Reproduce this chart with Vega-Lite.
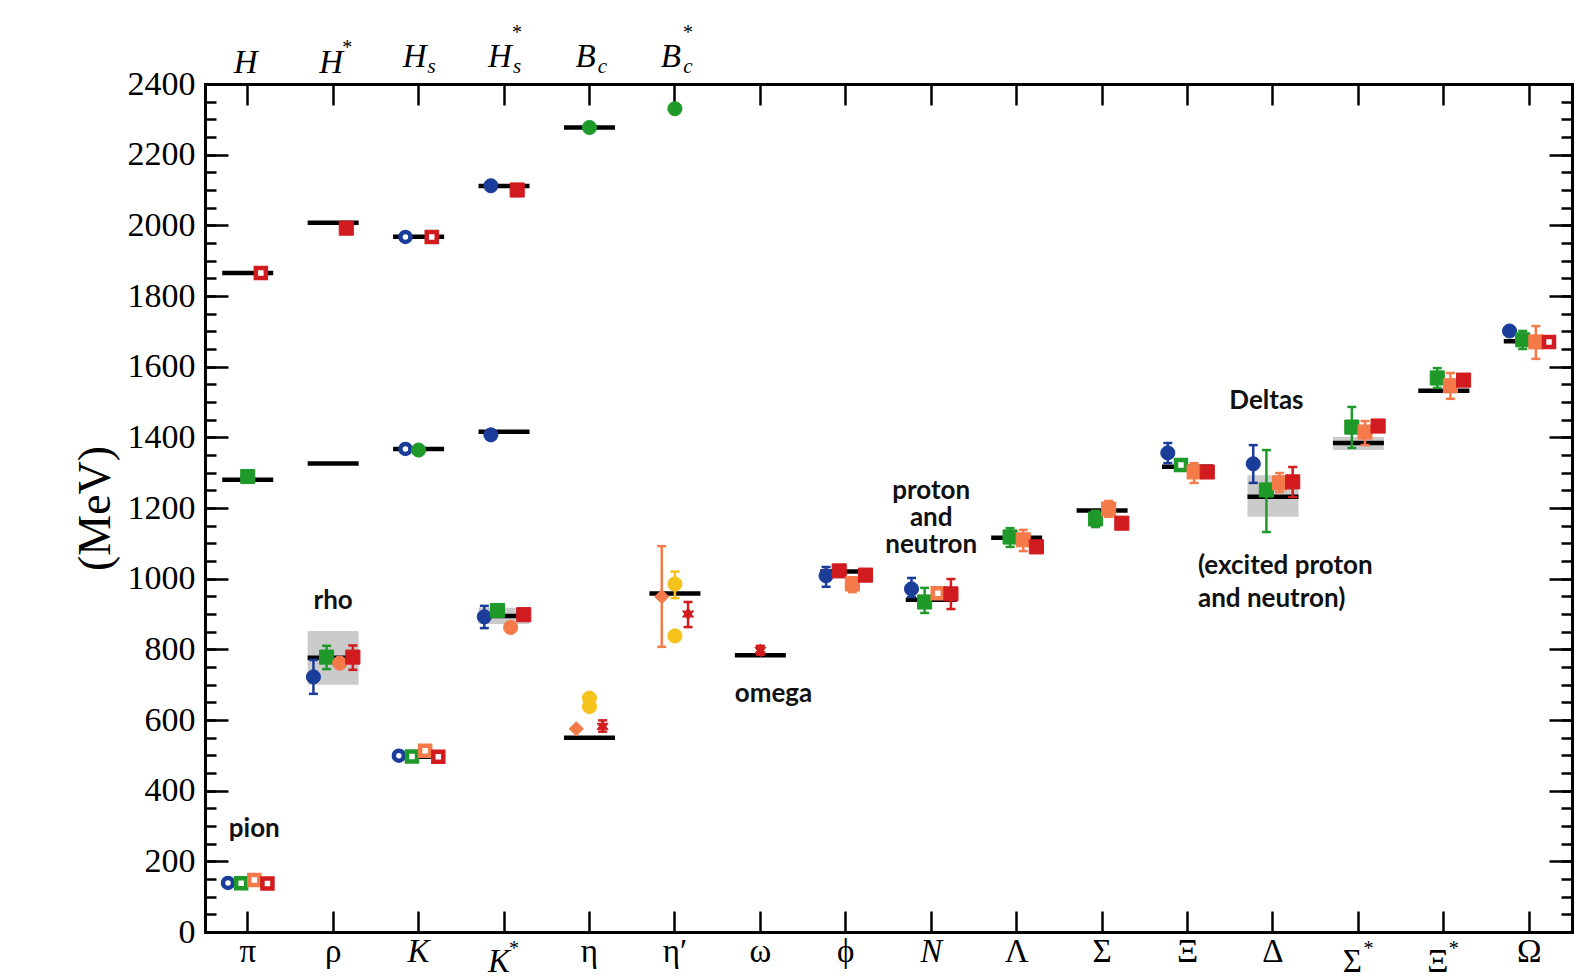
{
  "$schema": "https://vega.github.io/schema/vega-lite/v6.json",
  "width": 1367,
  "height": 848,
  "autosize": "none",
  "padding": {"left": 205, "top": 84, "right": 13, "bottom": 46},
  "background": "white",
  "config": {
    "view": {"stroke": null},
    "axis": {"grid": false, "domainColor": "black", "tickColor": "black", "labelColor": "black", "titleColor": "black", "domainCap": "square"}
  },
  "datasets": {
    "pts": [
      {"col": "π", "k": -3, "m": 139, "ens": 5, "act": "staggered", "input": true},
      {"col": "π", "k": -1, "m": 138, "ens": 4, "act": "Wilson", "input": true},
      {"col": "π", "k": 1, "m": 147, "ens": 2, "act": "Wilson", "input": true},
      {"col": "π", "k": 3, "m": 137, "ens": 1, "act": "Wilson", "input": true},
      {"col": "ρ", "k": -3, "m": 722, "lo": 674, "hi": 770, "ens": 5, "act": "staggered"},
      {"col": "ρ", "k": -1, "m": 778, "lo": 744, "hi": 810, "ens": 4, "act": "Wilson"},
      {"col": "ρ", "k": 1, "m": 761, "ens": 2, "act": "staggered"},
      {"col": "ρ", "k": 3, "m": 778, "lo": 742, "hi": 811, "ens": 1, "act": "Wilson"},
      {"col": "K", "k": -3, "m": 499, "ens": 5, "act": "staggered", "input": true},
      {"col": "K", "k": -1, "m": 497, "ens": 4, "act": "Wilson", "input": true},
      {"col": "K", "k": 1, "m": 513, "ens": 2, "act": "Wilson", "input": true},
      {"col": "K", "k": 3, "m": 496, "ens": 1, "act": "Wilson", "input": true},
      {"col": "K*", "k": -3, "m": 892, "lo": 860, "hi": 923, "ens": 5, "act": "staggered"},
      {"col": "K*", "k": -1, "m": 910, "lo": 902, "hi": 917, "ens": 4, "act": "Wilson"},
      {"col": "K*", "k": 1, "m": 862, "lo": 851, "hi": 874, "ens": 2, "act": "staggered"},
      {"col": "K*", "k": 3, "m": 898, "ens": 1, "act": "Wilson"},
      {"col": "η", "k": -2, "m": 575, "ens": 2, "act": "twisted"},
      {"col": "η", "k": 0, "m": 662, "ens": 3, "act": "staggered"},
      {"col": "η", "k": 0, "m": 638, "ens": 3, "act": "staggered"},
      {"col": "η", "k": 2, "m": 582, "lo": 567, "hi": 599, "ens": 1, "act": "anisotropic"},
      {"col": "η′", "k": -2, "m": 949, "lo": 807, "hi": 1092, "ens": 2, "act": "twisted"},
      {"col": "η′", "k": 0, "m": 985, "lo": 945, "hi": 1020, "ens": 3, "act": "staggered"},
      {"col": "η′", "k": 0, "m": 838, "ens": 3, "act": "staggered"},
      {"col": "η′", "k": 2, "m": 900, "lo": 863, "hi": 934, "ens": 1, "act": "anisotropic"},
      {"col": "ω", "k": 0, "m": 797, "lo": 785, "hi": 810, "ens": 1, "act": "anisotropic"},
      {"col": "ϕ", "k": -3, "m": 1008, "lo": 977, "hi": 1033, "ens": 5, "act": "staggered"},
      {"col": "ϕ", "k": -1, "m": 1022, "lo": 1012, "hi": 1031, "ens": 1, "act": "Wilson"},
      {"col": "ϕ", "k": 1, "m": 985, "lo": 962, "hi": 1004, "ens": 2, "act": "Wilson"},
      {"col": "ϕ", "k": 3, "m": 1010, "ens": 1, "act": "Wilson"},
      {"col": "N", "k": -3, "m": 971, "lo": 948, "hi": 1002, "ens": 5, "act": "staggered"},
      {"col": "N", "k": -1, "m": 934, "lo": 903, "hi": 974, "ens": 4, "act": "Wilson"},
      {"col": "N", "k": 1, "m": 959, "ens": 2, "act": "Wilson", "input": true},
      {"col": "N", "k": 3, "m": 957, "lo": 914, "hi": 999, "ens": 1, "act": "Wilson"},
      {"col": "Λ", "k": -1, "m": 1118, "lo": 1090, "hi": 1143, "ens": 4, "act": "Wilson"},
      {"col": "Λ", "k": 1, "m": 1110, "lo": 1078, "hi": 1138, "ens": 2, "act": "Wilson"},
      {"col": "Λ", "k": 3, "m": 1090, "lo": 1080, "hi": 1101, "ens": 1, "act": "Wilson"},
      {"col": "Σ", "k": -1, "m": 1169, "lo": 1146, "hi": 1192, "ens": 4, "act": "Wilson"},
      {"col": "Σ", "k": 1, "m": 1197, "lo": 1175, "hi": 1220, "ens": 2, "act": "Wilson"},
      {"col": "Σ", "k": 3, "m": 1157, "lo": 1146, "hi": 1168, "ens": 1, "act": "Wilson"},
      {"col": "Ξ", "k": -3, "m": 1356, "lo": 1327, "hi": 1384, "ens": 5, "act": "staggered"},
      {"col": "Ξ", "k": -1, "m": 1322, "ens": 4, "act": "Wilson", "input": true},
      {"col": "Ξ", "k": 1, "m": 1302, "lo": 1271, "hi": 1327, "ens": 2, "act": "Wilson"},
      {"col": "Ξ", "k": 3, "m": 1302, "lo": 1294, "hi": 1310, "ens": 1, "act": "Wilson"},
      {"col": "Δ", "k": -3, "m": 1325, "lo": 1271, "hi": 1378, "ens": 5, "act": "staggered"},
      {"col": "Δ", "k": -1, "m": 1251, "lo": 1132, "hi": 1364, "ens": 4, "act": "Wilson"},
      {"col": "Δ", "k": 1, "m": 1271, "lo": 1245, "hi": 1299, "ens": 2, "act": "Wilson"},
      {"col": "Δ", "k": 3, "m": 1274, "lo": 1231, "hi": 1316, "ens": 1, "act": "Wilson"},
      {"col": "Σ*", "k": -1, "m": 1429, "lo": 1370, "hi": 1486, "ens": 4, "act": "Wilson"},
      {"col": "Σ*", "k": 1, "m": 1415, "lo": 1378, "hi": 1446, "ens": 2, "act": "Wilson"},
      {"col": "Σ*", "k": 3, "m": 1432, "lo": 1418, "hi": 1446, "ens": 1, "act": "Wilson"},
      {"col": "Ξ*", "k": -1, "m": 1568, "lo": 1540, "hi": 1596, "ens": 4, "act": "Wilson"},
      {"col": "Ξ*", "k": 1, "m": 1546, "lo": 1509, "hi": 1582, "ens": 2, "act": "Wilson"},
      {"col": "Ξ*", "k": 3, "m": 1562, "lo": 1553, "hi": 1571, "ens": 1, "act": "Wilson"},
      {"col": "Ω", "k": -3, "m": 1701, "ens": 5, "act": "staggered"},
      {"col": "Ω", "k": -1, "m": 1676, "lo": 1650, "hi": 1701, "ens": 4, "act": "Wilson"},
      {"col": "Ω", "k": 1, "m": 1670, "lo": 1622, "hi": 1715, "ens": 2, "act": "Wilson"},
      {"col": "Ω", "k": 3, "m": 1670, "ens": 1, "act": "Wilson", "input": true},
      {"col": "π", "k": 0, "m": 1289, "lo": 1278, "hi": 1302, "ens": 4, "act": "Wilson"},
      {"col": "π", "k": 2, "m": 1865, "ens": 1, "act": "Wilson", "input": true},
      {"col": "ρ", "k": 2, "m": 1992, "lo": 1982, "hi": 2002, "ens": 1, "act": "Wilson"},
      {"col": "K", "k": -2, "m": 1967, "ens": 5, "act": "staggered", "input": true},
      {"col": "K", "k": 2, "m": 1967, "ens": 1, "act": "Wilson", "input": true},
      {"col": "K", "k": -2, "m": 1367, "ens": 5, "act": "staggered", "input": true},
      {"col": "K", "k": 0, "m": 1364, "ens": 4, "act": "staggered"},
      {"col": "K*", "k": -2, "m": 2112, "ens": 5, "act": "staggered"},
      {"col": "K*", "k": 2, "m": 2100, "lo": 2093, "hi": 2107, "ens": 1, "act": "Wilson"},
      {"col": "K*", "k": -2, "m": 1407, "ens": 5, "act": "staggered"},
      {"col": "η", "k": 0, "m": 2277, "ens": 4, "act": "staggered"},
      {"col": "η′", "k": 0, "m": 2330, "ens": 4, "act": "staggered"}
    ],
    "exp": [
      {"col": "π", "m": 138}, {"col": "ρ", "m": 776}, {"col": "K", "m": 496}, {"col": "K*", "m": 894},
      {"col": "η", "m": 550}, {"col": "η′", "m": 958}, {"col": "ω", "m": 783}, {"col": "ϕ", "m": 1020},
      {"col": "N", "m": 940}, {"col": "Λ", "m": 1116}, {"col": "Σ", "m": 1193}, {"col": "Ξ", "m": 1317},
      {"col": "Δ", "m": 1232}, {"col": "Σ*", "m": 1384}, {"col": "Ξ*", "m": 1532}, {"col": "Ω", "m": 1672},
      {"col": "π", "m": 1280}, {"col": "π", "m": 1865}, {"col": "ρ", "m": 1326}, {"col": "ρ", "m": 2007},
      {"col": "K", "m": 1367}, {"col": "K", "m": 1968}, {"col": "K*", "m": 1416}, {"col": "K*", "m": 2111},
      {"col": "η", "m": 2277}
    ],
    "widths": [
      {"col": "ρ", "lo": 700, "hi": 852},
      {"col": "K*", "lo": 872, "hi": 918},
      {"col": "Δ", "lo": 1175, "hi": 1293},
      {"col": "Σ*", "lo": 1364, "hi": 1401},
      {"col": "Ξ*", "lo": 1527, "hi": 1537}
    ],
    "labels": [
      {"col": "π", "side": "bottom", "main": "π"},
      {"col": "ρ", "side": "bottom", "main": "ρ"},
      {"col": "K", "side": "bottom", "main": "K"},
      {"col": "K*", "side": "bottom", "main": "K", "sup": "*"},
      {"col": "η", "side": "bottom", "main": "η"},
      {"col": "η′", "side": "bottom", "main": "η′"},
      {"col": "ω", "side": "bottom", "main": "ω"},
      {"col": "ϕ", "side": "bottom", "main": "ϕ"},
      {"col": "N", "side": "bottom", "main": "N"},
      {"col": "Λ", "side": "bottom", "main": "Λ"},
      {"col": "Σ", "side": "bottom", "main": "Σ"},
      {"col": "Ξ", "side": "bottom", "main": "Ξ"},
      {"col": "Δ", "side": "bottom", "main": "Δ"},
      {"col": "Σ*", "side": "bottom", "main": "Σ", "sup": "*"},
      {"col": "Ξ*", "side": "bottom", "main": "Ξ", "sup": "*"},
      {"col": "Ω", "side": "bottom", "main": "Ω"},
      {"col": "π", "side": "top", "main": "H"},
      {"col": "ρ", "side": "top", "main": "H", "sup": "*"},
      {"col": "K", "side": "top", "main": "H", "sub": "s"},
      {"col": "K*", "side": "top", "main": "H", "sub": "s", "sup": "*"},
      {"col": "η", "side": "top", "main": "B", "sub": "c"},
      {"col": "η′", "side": "top", "main": "B", "sub": "c", "sup": "*"}
    ],
    "notes": [
      {"col": "π", "k": 1, "m": 292, "text": "pion"},
      {"col": "ρ", "k": 0, "m": 937, "text": "rho"},
      {"col": "ω", "k": 2, "m": 674, "text": "omega"},
      {"col": "N", "k": 0, "m": 1248, "text": ["proton", "and", "neutron"]},
      {"col": "Δ", "k": -1, "m": 1503, "text": "Deltas"}
    ],
    "notes2": [
      {"col": "Δ", "m": 1036, "text": ["(excited proton", "and neutron)"]}
    ]
  },
  "resolve": {"axis": {"x": "independent", "y": "independent"}},
  "layer": [
    {
      "data": {"name": "widths"},
      "mark": {"type": "bar", "color": "#cbcbcb", "width": 51, "opacity": 1},
      "encoding": {
        "x": {"field": "col", "type": "nominal", "scale": {"type": "band", "domain": ["π","ρ","K","K*","η","η′","ω","ϕ","N","Λ","Σ","Ξ","Δ","Σ*","Ξ*","Ω"], "paddingInner": 0, "paddingOuter": 0},
          "axis": {"orient": "bottom", "labels": false, "title": null, "tickSize": -21, "tickWidth": 2.5, "domainWidth": 3}},
        "y": {"field": "lo", "type": "quantitative", "scale": {"domain": [0, 2400], "nice": false, "zero": false},
          "axis": {"orient": "left", "values": [0,200,400,600,800,1000,1200,1400,1600,1800,2000,2200,2400], "format": "d", "tickSize": -23, "tickWidth": 2.5, "domainWidth": 3,
            "labelFont": "Liberation Serif", "labelFontSize": 34, "labelPadding": 33,
            "title": "(MeV)", "titleFont": "Liberation Serif", "titleFontSize": 46, "titleFontWeight": "normal",
            "titleX": -110, "titleY": 424, "titleAngle": 270, "titleAlign": "center", "titleBaseline": "middle"}},
        "y2": {"field": "hi"}
      }
    },
    {
      "data": {"name": "exp"},
      "mark": {"type": "tick", "orient": "horizontal", "color": "black", "size": 51, "thickness": 4.5, "opacity": 1},
      "encoding": {
        "x": {"field": "col", "type": "nominal", "scale": {"type": "band", "domain": ["π","ρ","K","K*","η","η′","ω","ϕ","N","Λ","Σ","Ξ","Δ","Σ*","Ξ*","Ω"], "paddingInner": 0, "paddingOuter": 0},
          "axis": {"orient": "top", "labels": false, "title": null, "tickSize": -21, "tickWidth": 2.5, "domainWidth": 3}},
        "y": {"field": "m", "type": "quantitative", "scale": {"domain": [0, 2400], "nice": false, "zero": false},
          "axis": {"orient": "right", "values": [0,200,400,600,800,1000,1200,1400,1600,1800,2000,2200,2400], "tickSize": -23, "tickWidth": 2.5, "domainWidth": 3, "labels": false, "title": null}}
      }
    },
    {
      "data": {"name": "pts"},
      "transform": [{"filter": "isValid(datum.lo)"}],
      "mark": {"type": "rule", "strokeWidth": 2.5, "opacity": 1},
      "encoding": {
        "x": {"field": "col", "type": "nominal", "scale": {"type": "band", "domain": ["π","ρ","K","K*","η","η′","ω","ϕ","N","Λ","Σ","Ξ","Δ","Σ*","Ξ*","Ω"], "paddingInner": 0, "paddingOuter": 0}, "axis": null},
        "xOffset": {"field": "k", "type": "ordinal", "scale": {"type": "point", "domain": [-6,-5,-4,-3,-2,-1,0,1,2,3,4,5,6], "padding": 0.5}},
        "y": {"field": "lo", "type": "quantitative", "scale": {"domain": [0, 2400], "nice": false, "zero": false},
          "axis": {"orient": "left", "values": [0,50,100,150,200,250,300,350,400,450,500,550,600,650,700,750,800,850,900,950,1000,1050,1100,1150,1200,1250,1300,1350,1400,1450,1500,1550,1600,1650,1700,1750,1800,1850,1900,1950,2000,2050,2100,2150,2200,2250,2300,2350,2400], "tickSize": -11, "tickWidth": 2.5, "domain": false, "labels": false, "title": null}},
        "y2": {"field": "hi"},
        "stroke": {"field": "ens", "type": "ordinal", "scale": {"domain": [1,2,3,4,5], "range": ["#d11b1f","#f47a4a","#f6c21c","#1f9a2a","#1b3d9a"]}, "legend": null}
      }
    },
    {
      "data": {"name": "pts"},
      "transform": [{"filter": "isValid(datum.lo)"}],
      "mark": {"type": "tick", "orient": "horizontal", "size": 9, "thickness": 2.5, "opacity": 1},
      "encoding": {
        "x": {"field": "col", "type": "nominal", "scale": {"type": "band", "domain": ["π","ρ","K","K*","η","η′","ω","ϕ","N","Λ","Σ","Ξ","Δ","Σ*","Ξ*","Ω"], "paddingInner": 0, "paddingOuter": 0}, "axis": null},
        "xOffset": {"field": "k", "type": "ordinal", "scale": {"type": "point", "domain": [-6,-5,-4,-3,-2,-1,0,1,2,3,4,5,6], "padding": 0.5}},
        "y": {"field": "lo", "type": "quantitative", "scale": {"domain": [0, 2400], "nice": false, "zero": false},
          "axis": {"orient": "right", "values": [0,50,100,150,200,250,300,350,400,450,500,550,600,650,700,750,800,850,900,950,1000,1050,1100,1150,1200,1250,1300,1350,1400,1450,1500,1550,1600,1650,1700,1750,1800,1850,1900,1950,2000,2050,2100,2150,2200,2250,2300,2350,2400], "tickSize": -11, "tickWidth": 2.5, "domain": false, "labels": false, "title": null}},
        "color": {"field": "ens", "type": "ordinal", "scale": {"domain": [1,2,3,4,5], "range": ["#d11b1f","#f47a4a","#f6c21c","#1f9a2a","#1b3d9a"]}, "legend": null}
      }
    },
    {
      "data": {"name": "pts"},
      "transform": [{"filter": "isValid(datum.hi)"}],
      "mark": {"type": "tick", "orient": "horizontal", "size": 9, "thickness": 2.5, "opacity": 1},
      "encoding": {
        "x": {"field": "col", "type": "nominal", "scale": {"type": "band", "domain": ["π","ρ","K","K*","η","η′","ω","ϕ","N","Λ","Σ","Ξ","Δ","Σ*","Ξ*","Ω"], "paddingInner": 0, "paddingOuter": 0}, "axis": null},
        "xOffset": {"field": "k", "type": "ordinal", "scale": {"type": "point", "domain": [-6,-5,-4,-3,-2,-1,0,1,2,3,4,5,6], "padding": 0.5}},
        "y": {"field": "hi", "type": "quantitative", "scale": {"domain": [0, 2400], "nice": false, "zero": false}, "axis": null},
        "color": {"field": "ens", "type": "ordinal", "scale": {"domain": [1,2,3,4,5], "range": ["#d11b1f","#f47a4a","#f6c21c","#1f9a2a","#1b3d9a"]}, "legend": null}
      }
    },
    {
      "data": {"name": "pts"},
      "mark": {"type": "point", "filled": true, "opacity": 1},
      "encoding": {
        "x": {"field": "col", "type": "nominal", "scale": {"type": "band", "domain": ["π","ρ","K","K*","η","η′","ω","ϕ","N","Λ","Σ","Ξ","Δ","Σ*","Ξ*","Ω"], "paddingInner": 0, "paddingOuter": 0}, "axis": null},
        "xOffset": {"field": "k", "type": "ordinal", "scale": {"type": "point", "domain": [-6,-5,-4,-3,-2,-1,0,1,2,3,4,5,6], "padding": 0.5}},
        "y": {"field": "m", "type": "quantitative", "scale": {"domain": [0, 2400], "nice": false, "zero": false}, "axis": null},
        "shape": {"field": "act", "type": "nominal", "scale": {"domain": ["staggered","Wilson","twisted","anisotropic"], "range": ["circle","square","diamond","M0,-1L0.28,-0.45L0.87,-0.5L0.5,0L0.87,0.5L0.28,0.45L0,1L-0.28,0.45L-0.87,0.5L-0.5,0L-0.87,-0.5L-0.28,-0.45Z"]}, "legend": null},
        "fill": {"condition": {"test": "datum.input", "value": "white"}, "field": "ens", "type": "ordinal", "scale": {"domain": [1,2,3,4,5], "range": ["#d11b1f","#f47a4a","#f6c21c","#1f9a2a","#1b3d9a"]}, "legend": null},
        "stroke": {"field": "ens", "type": "ordinal", "scale": {"domain": [1,2,3,4,5], "range": ["#d11b1f","#f47a4a","#f6c21c","#1f9a2a","#1b3d9a"]}, "legend": null},
        "strokeWidth": {"condition": {"test": "datum.input", "value": 4.5}, "value": 1},
        "size": {"condition": [{"test": "datum.input", "value": 100}, {"test": "datum.act == 'anisotropic'", "value": 160}], "value": 200}
      }
    },
    {
      "data": {"name": "labels"},
      "transform": [{"filter": "datum.side == 'bottom' && !datum.sup && datum.main != 'K' && datum.main != 'N'"}],
      "mark": {"type": "text", "font": "Liberation Serif", "fontSize": 33, "color": "black", "baseline": "alphabetic", "align": "center", "dy": 30},
      "encoding": {
        "x": {"field": "col", "type": "nominal", "scale": {"type": "band", "domain": ["π","ρ","K","K*","η","η′","ω","ϕ","N","Λ","Σ","Ξ","Δ","Σ*","Ξ*","Ω"], "paddingInner": 0, "paddingOuter": 0}, "axis": null},
        "y": {"datum": 0, "type": "quantitative", "scale": {"domain": [0, 2400], "nice": false, "zero": false}, "axis": null},
        "text": {"field": "main"}
      }
    },
    {
      "data": {"name": "labels"},
      "transform": [{"filter": "datum.side == 'bottom' && !datum.sup && (datum.main == 'K' || datum.main == 'N')"}],
      "mark": {"type": "text", "font": "Liberation Serif", "fontSize": 33, "fontStyle": "italic", "color": "black", "baseline": "alphabetic", "align": "center", "dy": 30},
      "encoding": {
        "x": {"field": "col", "type": "nominal", "scale": {"type": "band", "domain": ["π","ρ","K","K*","η","η′","ω","ϕ","N","Λ","Σ","Ξ","Δ","Σ*","Ξ*","Ω"], "paddingInner": 0, "paddingOuter": 0}, "axis": null},
        "y": {"datum": 0, "type": "quantitative", "scale": {"domain": [0, 2400], "nice": false, "zero": false}, "axis": null},
        "text": {"field": "main"}
      }
    },
    {
      "data": {"name": "labels"},
      "transform": [{"filter": "datum.side == 'bottom' && datum.sup && datum.main != 'K'"}],
      "mark": {"type": "text", "font": "Liberation Serif", "fontSize": 33, "color": "black", "baseline": "alphabetic", "align": "center", "dy": 40, "dx": -6},
      "encoding": {
        "x": {"field": "col", "type": "nominal", "scale": {"type": "band", "domain": ["π","ρ","K","K*","η","η′","ω","ϕ","N","Λ","Σ","Ξ","Δ","Σ*","Ξ*","Ω"], "paddingInner": 0, "paddingOuter": 0}, "axis": null},
        "y": {"datum": 0, "type": "quantitative", "scale": {"domain": [0, 2400], "nice": false, "zero": false}, "axis": null},
        "text": {"field": "main"}
      }
    },
    {
      "data": {"name": "labels"},
      "transform": [{"filter": "datum.side == 'bottom' && datum.sup && datum.main == 'K'"}],
      "mark": {"type": "text", "font": "Liberation Serif", "fontSize": 33, "fontStyle": "italic", "color": "black", "baseline": "alphabetic", "align": "center", "dy": 40, "dx": -5},
      "encoding": {
        "x": {"field": "col", "type": "nominal", "scale": {"type": "band", "domain": ["π","ρ","K","K*","η","η′","ω","ϕ","N","Λ","Σ","Ξ","Δ","Σ*","Ξ*","Ω"], "paddingInner": 0, "paddingOuter": 0}, "axis": null},
        "y": {"datum": 0, "type": "quantitative", "scale": {"domain": [0, 2400], "nice": false, "zero": false}, "axis": null},
        "text": {"field": "main"}
      }
    },
    {
      "data": {"name": "labels"},
      "transform": [{"filter": "datum.side == 'bottom' && datum.sup"}],
      "mark": {"type": "text", "font": "Liberation Serif", "fontSize": 20, "color": "black", "baseline": "alphabetic", "align": "center", "dy": 23, "dx": 10},
      "encoding": {
        "x": {"field": "col", "type": "nominal", "scale": {"type": "band", "domain": ["π","ρ","K","K*","η","η′","ω","ϕ","N","Λ","Σ","Ξ","Δ","Σ*","Ξ*","Ω"], "paddingInner": 0, "paddingOuter": 0}, "axis": null},
        "y": {"datum": 0, "type": "quantitative", "scale": {"domain": [0, 2400], "nice": false, "zero": false}, "axis": null},
        "text": {"field": "sup"}
      }
    },
    {
      "data": {"name": "labels"},
      "transform": [{"filter": "datum.side == 'top' && !datum.sub"}],
      "mark": {"type": "text", "font": "Liberation Serif", "fontSize": 33, "fontStyle": "italic", "color": "black", "baseline": "alphabetic", "align": "center", "dy": -11, "dx": -2},
      "encoding": {
        "x": {"field": "col", "type": "nominal", "scale": {"type": "band", "domain": ["π","ρ","K","K*","η","η′","ω","ϕ","N","Λ","Σ","Ξ","Δ","Σ*","Ξ*","Ω"], "paddingInner": 0, "paddingOuter": 0}, "axis": null},
        "y": {"datum": 2400, "type": "quantitative", "scale": {"domain": [0, 2400], "nice": false, "zero": false}, "axis": null},
        "text": {"field": "main"}
      }
    },
    {
      "data": {"name": "labels"},
      "transform": [{"filter": "datum.side == 'top' && datum.sub"}],
      "mark": {"type": "text", "font": "Liberation Serif", "fontSize": 33, "fontStyle": "italic", "color": "black", "baseline": "alphabetic", "align": "center", "dy": -17, "dx": -4},
      "encoding": {
        "x": {"field": "col", "type": "nominal", "scale": {"type": "band", "domain": ["π","ρ","K","K*","η","η′","ω","ϕ","N","Λ","Σ","Ξ","Δ","Σ*","Ξ*","Ω"], "paddingInner": 0, "paddingOuter": 0}, "axis": null},
        "y": {"datum": 2400, "type": "quantitative", "scale": {"domain": [0, 2400], "nice": false, "zero": false}, "axis": null},
        "text": {"field": "main"}
      }
    },
    {
      "data": {"name": "labels"},
      "transform": [{"filter": "datum.side == 'top' && datum.sub"}],
      "mark": {"type": "text", "font": "Liberation Serif", "fontSize": 21, "fontStyle": "italic", "color": "black", "baseline": "alphabetic", "align": "center", "dy": -11, "dx": 13},
      "encoding": {
        "x": {"field": "col", "type": "nominal", "scale": {"type": "band", "domain": ["π","ρ","K","K*","η","η′","ω","ϕ","N","Λ","Σ","Ξ","Δ","Σ*","Ξ*","Ω"], "paddingInner": 0, "paddingOuter": 0}, "axis": null},
        "y": {"datum": 2400, "type": "quantitative", "scale": {"domain": [0, 2400], "nice": false, "zero": false}, "axis": null},
        "text": {"field": "sub"}
      }
    },
    {
      "data": {"name": "labels"},
      "transform": [{"filter": "datum.side == 'top' && datum.sup && !datum.sub"}],
      "mark": {"type": "text", "font": "Liberation Serif", "fontSize": 20, "color": "black", "baseline": "alphabetic", "align": "center", "dy": -30, "dx": 14},
      "encoding": {
        "x": {"field": "col", "type": "nominal", "scale": {"type": "band", "domain": ["π","ρ","K","K*","η","η′","ω","ϕ","N","Λ","Σ","Ξ","Δ","Σ*","Ξ*","Ω"], "paddingInner": 0, "paddingOuter": 0}, "axis": null},
        "y": {"datum": 2400, "type": "quantitative", "scale": {"domain": [0, 2400], "nice": false, "zero": false}, "axis": null},
        "text": {"field": "sup"}
      }
    },
    {
      "data": {"name": "labels"},
      "transform": [{"filter": "datum.side == 'top' && datum.sup && datum.sub"}],
      "mark": {"type": "text", "font": "Liberation Serif", "fontSize": 20, "color": "black", "baseline": "alphabetic", "align": "center", "dy": -45, "dx": 13},
      "encoding": {
        "x": {"field": "col", "type": "nominal", "scale": {"type": "band", "domain": ["π","ρ","K","K*","η","η′","ω","ϕ","N","Λ","Σ","Ξ","Δ","Σ*","Ξ*","Ω"], "paddingInner": 0, "paddingOuter": 0}, "axis": null},
        "y": {"datum": 2400, "type": "quantitative", "scale": {"domain": [0, 2400], "nice": false, "zero": false}, "axis": null},
        "text": {"field": "sup"}
      }
    },
    {
      "data": {"name": "notes"},
      "mark": {"type": "text", "font": "Lato", "fontWeight": "bold", "fontSize": 26, "color": "#111111", "align": "center", "baseline": "middle", "lineHeight": 27},
      "encoding": {
        "x": {"field": "col", "type": "nominal", "scale": {"type": "band", "domain": ["π","ρ","K","K*","η","η′","ω","ϕ","N","Λ","Σ","Ξ","Δ","Σ*","Ξ*","Ω"], "paddingInner": 0, "paddingOuter": 0}, "axis": null},
        "xOffset": {"field": "k", "type": "ordinal", "scale": {"type": "point", "domain": [-6,-5,-4,-3,-2,-1,0,1,2,3,4,5,6], "padding": 0.5}},
        "y": {"field": "m", "type": "quantitative", "scale": {"domain": [0, 2400], "nice": false, "zero": false}, "axis": null},
        "text": {"field": "text"}
      }
    },
    {
      "data": {"name": "notes2"},
      "mark": {"type": "text", "font": "Lato", "fontWeight": "bold", "fontSize": 26, "color": "#111111", "align": "left", "baseline": "middle", "lineHeight": 33, "dx": -75},
      "encoding": {
        "x": {"field": "col", "type": "nominal", "scale": {"type": "band", "domain": ["π","ρ","K","K*","η","η′","ω","ϕ","N","Λ","Σ","Ξ","Δ","Σ*","Ξ*","Ω"], "paddingInner": 0, "paddingOuter": 0}, "axis": null},
        "y": {"field": "m", "type": "quantitative", "scale": {"domain": [0, 2400], "nice": false, "zero": false}, "axis": null},
        "text": {"field": "text"}
      }
    }
  ]
}
